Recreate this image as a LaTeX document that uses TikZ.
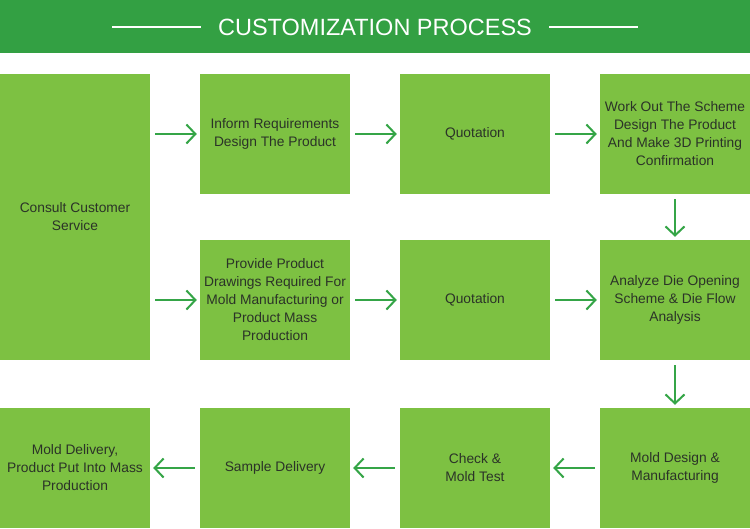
\documentclass[tikz,border=0pt]{standalone}
\usepackage{fontspec}
\setmainfont{Liberation Sans}
\usetikzlibrary{arrows.meta}
\definecolor{hdr}{HTML}{33A043}
\definecolor{boxc}{HTML}{7DC142}
\definecolor{arr}{HTML}{35A547}
\definecolor{txt}{HTML}{2B3328}
\begin{document}
\begin{tikzpicture}[x=1pt,y=-1pt,
  stepbox/.style={fill=boxc,draw=none,minimum width=150pt,inner sep=0pt,align=center,text=txt,font=\fontsize{13.8}{18}\selectfont},
  flow/.style={draw=arr,line width=2pt,-{Straight Barb[length=9pt,width=19pt,line width=2pt]}}]
\useasboundingbox (0,0) rectangle (750,528);
\fill[hdr] (0,0) rectangle (750,53);
\node[text=white,font=\fontsize{23.5}{26}\selectfont] (title) at (375,27) {CUSTOMIZATION PROCESS};
\draw[white,line width=1.5pt] (112,27) -- (201,27);
\draw[white,line width=1.5pt] (549,27) -- (638,27);
% row 1
\node[stepbox,minimum height=286pt] (consult) at (75,217) {Consult Customer\\Service};
\node[stepbox,minimum height=120pt] (inform) at (275,134) {Inform Requirements\\Design The Product};
\node[stepbox,minimum height=120pt] (quot1) at (475,134) {Quotation};
\node[stepbox,minimum height=120pt] (work) at (675,134) {Work Out The Scheme\\Design The Product\\And Make 3D Printing\\Confirmation};
% row 2
\node[stepbox,minimum height=120pt] (provide) at (275,300) {Provide Product\\Drawings Required For\\Mold Manufacturing or\\Product Mass\\Production};
\node[stepbox,minimum height=120pt] (quot2) at (475,300) {Quotation};
\node[stepbox,minimum height=120pt] (analyze) at (675,300) {Analyze Die Opening\\Scheme \& Die Flow\\Analysis};
% row 3
\node[stepbox,minimum height=120pt] (deliver) at (75,468) {Mold Delivery,\\Product Put Into Mass\\Production};
\node[stepbox,minimum height=120pt] (sample) at (275,468) {Sample Delivery};
\node[stepbox,minimum height=120pt] (check) at (475,468) {Check \&\\Mold Test};
\node[stepbox,minimum height=120pt] (design) at (675,468) {Mold Design \&\\Manufacturing};
% arrows
\draw[flow] ([xshift=5pt]consult.east |- inform.west) -- ([xshift=-3pt]inform.west);
\draw[flow] ([xshift=5pt]inform.east) -- ([xshift=-3pt]quot1.west);
\draw[flow] ([xshift=5pt]quot1.east) -- ([xshift=-3pt]work.west);
\draw[flow] ([xshift=5pt]consult.east |- provide.west) -- ([xshift=-3pt]provide.west);
\draw[flow] ([xshift=5pt]provide.east) -- ([xshift=-3pt]quot2.west);
\draw[flow] ([xshift=5pt]quot2.east) -- ([xshift=-3pt]analyze.west);
\draw[flow] ([yshift=-5pt]work.south) -- ([yshift=3pt]analyze.north);
\draw[flow] ([yshift=-5pt]analyze.south) -- ([yshift=3pt]design.north);
\draw[flow] ([xshift=-5pt]design.west) -- ([xshift=3pt]check.east);
\draw[flow] ([xshift=-5pt]check.west) -- ([xshift=3pt]sample.east);
\draw[flow] ([xshift=-5pt]sample.west) -- ([xshift=3pt]deliver.east);
\end{tikzpicture}
\end{document}
